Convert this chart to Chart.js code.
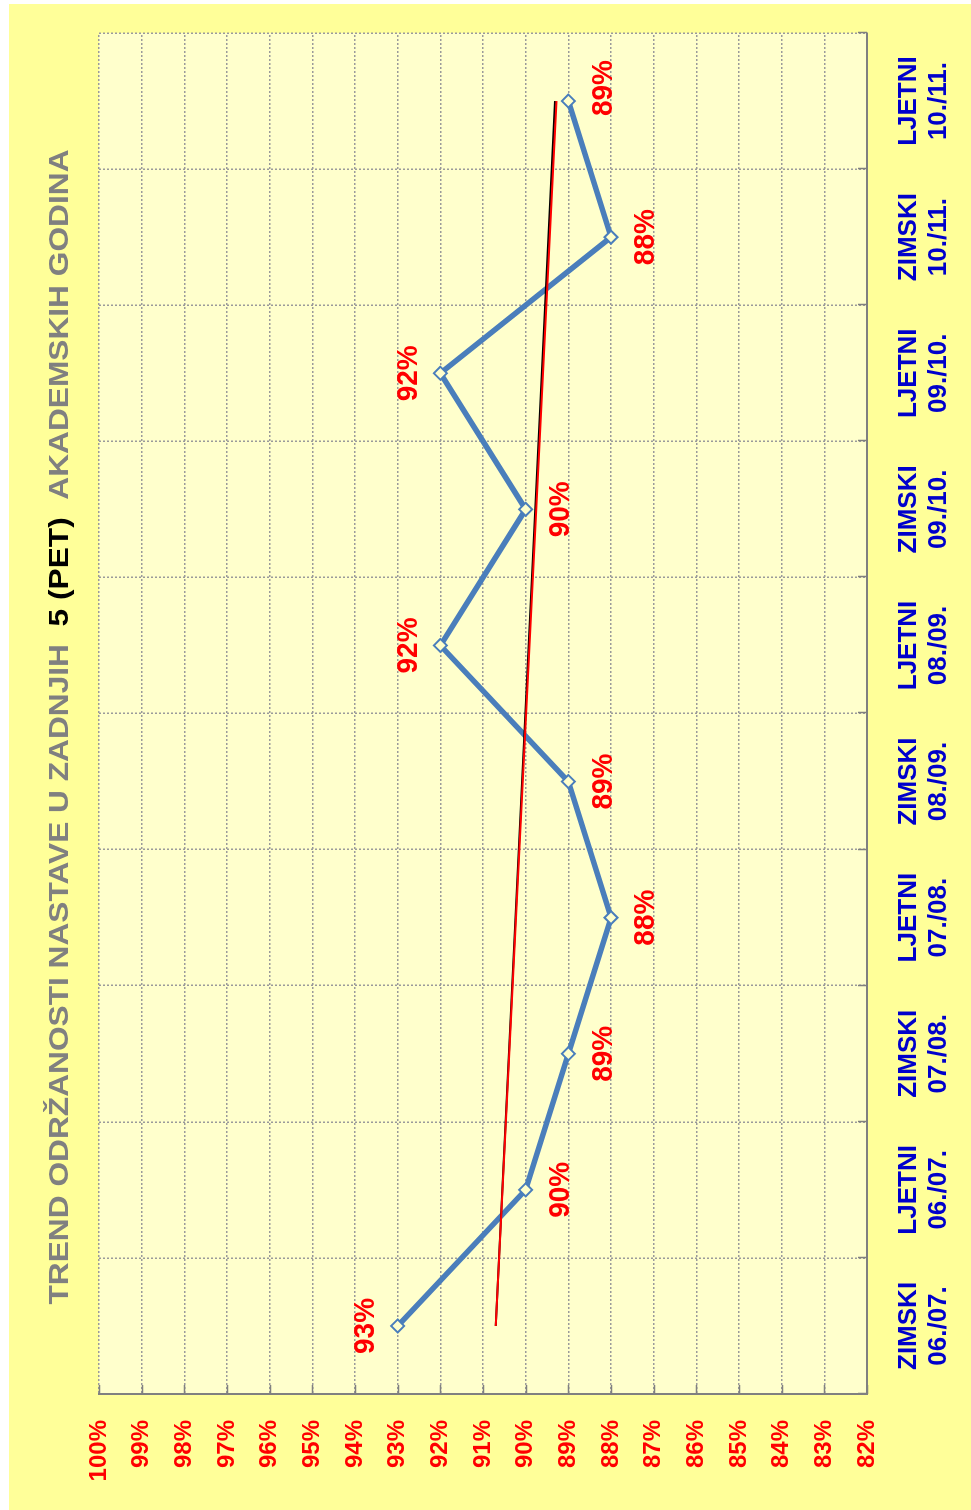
<!DOCTYPE html>
<html>
<head>
<meta charset="utf-8">
<script src="https://cdn.jsdelivr.net/npm/chart.js@4/dist/chart.umd.min.js"></script>
<style>
  html, body { margin: 0; padding: 0; background: #ffffff; width: 971px; height: 1510px; overflow: hidden; }
  #rot { position: absolute; left: 0; top: 0; width: 1510px; height: 971px;
         transform-origin: 0 0; transform: translateY(1510px) rotate(-90deg); }
  canvas { display: block; }
</style>
</head>
<body>
<div id="rot"><canvas id="c" width="1510" height="971"></canvas></div>
<script>
// ---- data ----
const categories = [
  ['ZIMSKI', '06./07.'], ['LJETNI', '06./07.'],
  ['ZIMSKI', '07./08.'], ['LJETNI', '07./08.'],
  ['ZIMSKI', '08./09.'], ['LJETNI', '08./09.'],
  ['ZIMSKI', '09./10.'], ['LJETNI', '09./10.'],
  ['ZIMSKI', '10./11.'], ['LJETNI', '10./11.']
];
const values = [93, 90, 89, 88, 89, 92, 90, 92, 88, 89];
const trendRed = [90.70, null, null, null, null, null, null, null, null, 89.28];
const trendBlack = [90.70, null, null, null, null, null, null, null, null, 89.31];
const labelSide = ['above', 'below', 'below', 'below', 'below', 'above', 'below', 'above', 'below', 'below'];
const yMin = 82, yMax = 100, yStep = 1;
const titleParts = [
  { text: 'TREND ODRŽANOSTI NASTAVE U ZADNJIH  ', color: '#808080' },
  { text: '5 (PET)', color: '#000000' },
  { text: '  AKADEMSKIH GODINA', color: '#808080' }
];

const FONT = "'Liberation Sans', Arial, sans-serif";

const bgPlugin = {
  id: 'bg',
  beforeDraw(chart) {
    const ctx = chart.ctx, a = chart.chartArea;
    ctx.save();
    ctx.fillStyle = '#FFFF99';
    ctx.fillRect(0, 9, 1506, 962);
    ctx.fillStyle = '#FFFFCC';
    ctx.fillRect(a.left, a.top, a.right - a.left, a.bottom - a.top);
    ctx.restore();
  }
};

const innerTicks = {
  id: 'innerTicks',
  beforeDatasetsDraw(chart) {
    const ctx = chart.ctx, a = chart.chartArea;
    const ys = chart.scales.y;
    ctx.save();
    ctx.strokeStyle = '#808080';
    ctx.lineWidth = 1.5;
    ctx.beginPath();
    for (let v = yMin; v <= yMax; v += yStep) {
      const py = Math.round(ys.getPixelForValue(v)) + 0.5;
      ctx.moveTo(a.left, py); ctx.lineTo(a.left + 9, py);
    }
    const n = categories.length;
    for (let k = 0; k <= n; k++) {
      const px = Math.round(a.left + k * (a.right - a.left) / n) + 0.5;
      ctx.moveTo(px, a.bottom); ctx.lineTo(px, a.bottom - 9);
    }
    ctx.stroke();
    ctx.restore();
  }
};

const valueLabels = {
  id: 'valueLabels',
  afterDatasetsDraw(chart) {
    const ctx = chart.ctx;
    const meta = chart.getDatasetMeta(2);
    const last = meta.data.length - 1;
    ctx.save();
    ctx.font = 'bold 28px ' + FONT;
    ctx.fillStyle = '#FF0000';
    ctx.textAlign = 'center';
    ctx.textBaseline = 'middle';
    meta.data.forEach((pt, i) => {
      const dy = labelSide[i] === 'above' ? -32 : 35;
      const dx = i === last ? 13 : 0;
      ctx.save();
      ctx.translate(pt.x + dx, pt.y + dy);
      ctx.scale(1, 1.08);
      ctx.fillText(values[i] + '%', 0, 0);
      ctx.restore();
    });
    ctx.restore();
  }
};

const titlePlugin = {
  id: 'titleDraw',
  afterDraw(chart) {
    const ctx = chart.ctx;
    ctx.save();
    ctx.font = 'bold 28px ' + FONT;
    ctx.textBaseline = 'middle';
    ctx.textAlign = 'left';
    const full = titleParts.map(p => p.text).join('');
    const w = ctx.measureText(full).width;
    const targetW = 1155, cx = 783, cy = 60;
    const sx = targetW / w;
    ctx.translate(cx - targetW / 2, cy);
    ctx.scale(sx, 1);
    let x = 0;
    titleParts.forEach(p => {
      ctx.fillStyle = p.color;
      ctx.fillText(p.text, x, 0);
      x += ctx.measureText(p.text).width;
    });
    ctx.restore();
  }
};

new Chart(document.getElementById('c'), {
  type: 'line',
  data: {
    labels: categories,
    datasets: [
      { data: trendRed, borderColor: '#FF0000', borderWidth: 2, pointRadius: 0, spanGaps: true, fill: false },
      { data: trendBlack, borderColor: '#000000', borderWidth: 2, pointRadius: 0, spanGaps: true, fill: false },
      { data: values, borderColor: '#4A7EBB', borderWidth: 5.5, pointStyle: 'rectRot', pointRadius: 6.5,
        pointBorderWidth: 2, pointBorderColor: '#4A7EBB', pointBackgroundColor: '#FFFFCC', fill: false, tension: 0 }
    ]
  },
  options: {
    responsive: false,
    animation: false,
    devicePixelRatio: 1,
    layout: { padding: { top: 99, right: 33, left: 0, bottom: 0 } },
    plugins: { legend: { display: false }, tooltip: { enabled: false }, title: { display: false } },
    scales: {
      x: {
        type: 'category',
        offset: true,
        grid: { offset: true, color: '#9A9A9A', lineWidth: 1.5, drawTicks: false },
        border: { display: true, color: '#808080', width: 2, dash: [2, 2] },
        ticks: { color: '#0000CC', font: { family: FONT, weight: 'bold', size: 26, lineHeight: 1.15 },
                 padding: 27, maxRotation: 0, minRotation: 0, autoSkip: false },
        afterFit(s) { s.height = 104; }
      },
      y: {
        min: yMin, max: yMax,
        grid: { color: '#9A9A9A', lineWidth: 1.5, drawTicks: false },
        border: { display: true, color: '#808080', width: 2, dash: [2, 2] },
        ticks: { stepSize: yStep, color: '#FF0000', font: { family: FONT, weight: 'bold', size: 24 },
                 padding: 26, callback: v => v + '%' },
        afterFit(s) { s.width = 116; }
      }
    }
  },
  plugins: [bgPlugin, innerTicks, valueLabels, titlePlugin]
});
</script>
</body>
</html>
